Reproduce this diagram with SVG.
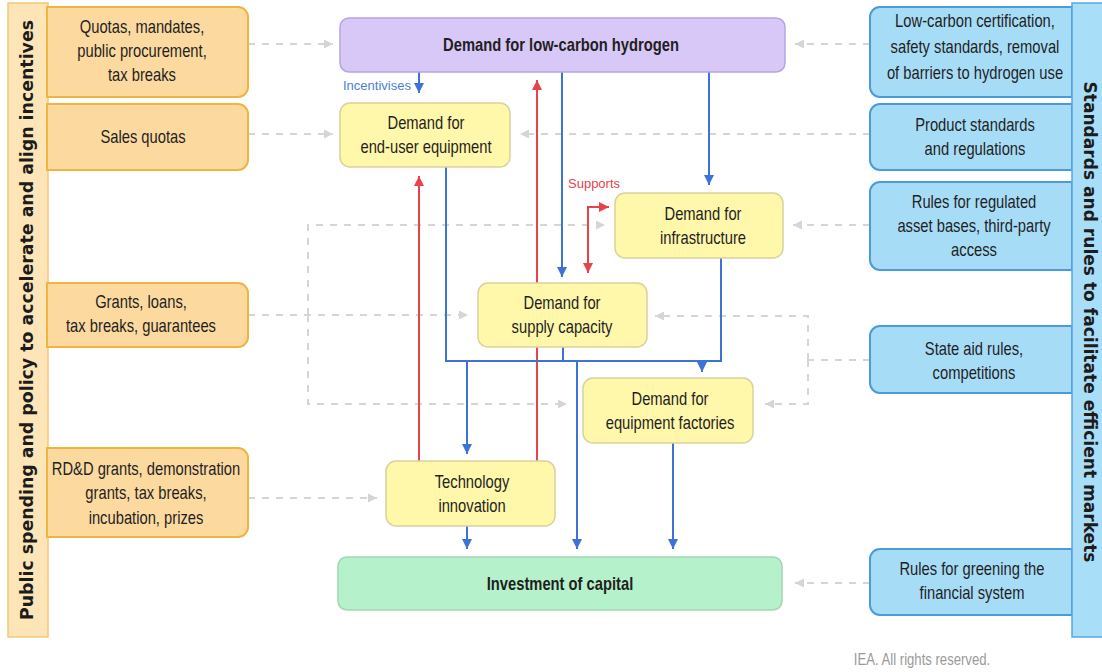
<svg xmlns="http://www.w3.org/2000/svg" width="1102" height="672" viewBox="0 0 1102 672">
<defs>
<style>
.t{font-family:"Liberation Sans",Arial,sans-serif;font-size:18px;fill:#1f1f1f;text-anchor:middle}
.b{font-weight:bold}
.side{font-family:"DejaVu Sans","Liberation Sans",sans-serif;font-size:17px;font-weight:bold;fill:#1c1c1c;text-anchor:middle}
.lbl{font-family:"Liberation Sans",Arial,sans-serif;font-size:13px}
.ob{fill:#fcd99f;stroke:#f0b540;stroke-width:2}
.bb{fill:#a7dcf7;stroke:#4b9ad9;stroke-width:2}
.yn{fill:#fff7aa;stroke:#d8d29c;stroke-width:1.5}
.blue{fill:none;stroke:#3d72d7;stroke-width:2}
.red{fill:none;stroke:#e6434b;stroke-width:2}
.dash{fill:none;stroke:#d5d5d5;stroke-width:2;stroke-dasharray:7 7}
</style>
<marker id="ab" viewBox="0 0 10 10" refX="10" refY="5" markerWidth="10" markerHeight="10" markerUnits="userSpaceOnUse" orient="auto-start-reverse"><path d="M0,0 L10,5 L0,10 Z" fill="#3d72d7"/></marker>
<marker id="ar" viewBox="0 0 10 10" refX="10" refY="5" markerWidth="10" markerHeight="10" markerUnits="userSpaceOnUse" orient="auto-start-reverse"><path d="M0,0 L10,5 L0,10 Z" fill="#e6434b"/></marker>
<marker id="ag" viewBox="0 0 10 10" refX="10" refY="5" markerWidth="9" markerHeight="10" markerUnits="userSpaceOnUse" orient="auto-start-reverse"><path d="M0,0 L10,5 L0,10 Z" fill="#d5d5d5"/></marker>
</defs>
<rect width="1102" height="672" fill="#ffffff"/>

<g id="connectors">
  <path class="dash" d="M248,44 H333" marker-end="url(#ag)"/>
  <path class="dash" d="M248,134 H333" marker-end="url(#ag)"/>
  <path class="dash" d="M870,44 H795" marker-end="url(#ag)"/>
  <path class="dash" d="M870,134 H520" marker-end="url(#ag)"/>
  <path class="dash" d="M870,225 H793" marker-end="url(#ag)"/>
  <path class="dash" d="M248,315 H468" marker-end="url(#ag)"/>
  <path class="dash" d="M308,315 V225 H605" marker-end="url(#ag)"/>
  <path class="dash" d="M308,315 V404 H567" marker-end="url(#ag)"/>
  <path class="dash" d="M870,360 H808"/>
  <path class="dash" d="M808,360 V316 H655" marker-end="url(#ag)"/>
  <path class="dash" d="M808,360 V404 H765" marker-end="url(#ag)"/>
  <path class="dash" d="M248,498 H377" marker-end="url(#ag)"/>
  <path class="dash" d="M870,583 H795" marker-end="url(#ag)"/>
  <path class="red" d="M419,461 V176" marker-end="url(#ar)"/>
  <path class="red" d="M537,461 V80" marker-end="url(#ar)"/>
  <path class="red" d="M588,273 V207 H609" marker-start="url(#ar)" marker-end="url(#ar)"/>
  <path class="blue" d="M419,72 V93" marker-end="url(#ab)"/>
  <path class="blue" d="M562,72 V277" marker-end="url(#ab)"/>
  <path class="blue" d="M709,72 V185" marker-end="url(#ab)"/>
  <path class="blue" d="M446,167 V361 H721 V258"/>
  <path class="blue" d="M563,347 V361"/>
  <path class="blue" d="M467,361 V454" marker-end="url(#ab)"/>
  <path class="blue" d="M577,361 V549" marker-end="url(#ab)"/>
  <path class="blue" d="M702,361 V372" marker-end="url(#ab)"/>
  <path class="blue" d="M467,526 V549" marker-end="url(#ab)"/>
  <path class="blue" d="M673,443 V549" marker-end="url(#ab)"/>
  <text class="lbl" x="343" y="90" fill="#4a7fd6">Incentivises</text>
  <text class="lbl" x="568" y="188" fill="#e6434b">Supports</text>
</g>

<g id="policy-bar">
  <rect x="8" y="3" width="40" height="634" fill="#fde5b7" stroke="#f4c874" stroke-width="1.5"/>
  <text class="side" transform="translate(27,320) rotate(-90)" y="6" textLength="600" lengthAdjust="spacingAndGlyphs">Public spending and policy to accelerate and align incentives</text>
</g>
<g id="p-quotas">
  <path class="ob" d="M47,7 H238 A10,10 0 0 1 248,17 V87 A10,10 0 0 1 238,97 H47 Z"/>
  <g transform="translate(142,0) scale(0.82,1)"><text class="t" y="33">Quotas, mandates,</text><text class="t" y="57">public procurement,</text><text class="t" y="81">tax breaks</text></g>
</g>
<g id="p-sales">
  <path class="ob" d="M47,104 H238 A10,10 0 0 1 248,114 V160 A10,10 0 0 1 238,170 H47 Z"/>
  <g transform="translate(143,0) scale(0.82,1)"><text class="t" y="143">Sales quotas</text></g>
</g>
<g id="p-grants">
  <path class="ob" d="M47,283 H238 A10,10 0 0 1 248,293 V337 A10,10 0 0 1 238,347 H47 Z"/>
  <g transform="translate(141,0) scale(0.82,1)"><text class="t" y="308.5">Grants, loans,</text><text class="t" y="332.5">tax breaks, guarantees</text></g>
</g>
<g id="p-rdd">
  <path class="ob" d="M47,448 H238 A10,10 0 0 1 248,458 V527 A10,10 0 0 1 238,537 H47 Z"/>
  <g transform="translate(146,0) scale(0.82,1)"><text class="t" y="475">RD&amp;D grants, demonstration</text><text class="t" y="499.5">grants, tax breaks,</text><text class="t" y="524">incubation, prizes</text></g>
</g>

<g id="s-lowcarbon">
  <path class="bb" d="M1072,7 H880 A10,10 0 0 0 870,17 V87 A10,10 0 0 0 880,97 H1072 Z"/>
  <g transform="translate(975,0) scale(0.82,1)"><text class="t" y="27">Low-carbon certification,</text><text class="t" y="53">safety standards, removal</text><text class="t" y="79">of barriers to hydrogen use</text></g>
</g>
<g id="s-product">
  <path class="bb" d="M1072,104 H880 A10,10 0 0 0 870,114 V160 A10,10 0 0 0 880,170 H1072 Z"/>
  <g transform="translate(975,0) scale(0.82,1)"><text class="t" y="131.5">Product standards</text><text class="t" y="155.5">and regulations</text></g>
</g>
<g id="s-rab">
  <path class="bb" d="M1072,182 H880 A10,10 0 0 0 870,192 V260 A10,10 0 0 0 880,270 H1072 Z"/>
  <g transform="translate(974,0) scale(0.82,1)"><text class="t" y="208">Rules for regulated</text><text class="t" y="232">asset bases, third-party</text><text class="t" y="256">access</text></g>
</g>
<g id="s-stateaid">
  <path class="bb" d="M1072,326 H880 A10,10 0 0 0 870,336 V383 A10,10 0 0 0 880,393 H1072 Z"/>
  <g transform="translate(974,0) scale(0.82,1)"><text class="t" y="355">State aid rules,</text><text class="t" y="379">competitions</text></g>
</g>
<g id="s-greening">
  <path class="bb" d="M1072,549 H880 A10,10 0 0 0 870,559 V605 A10,10 0 0 0 880,615 H1072 Z"/>
  <g transform="translate(972,0) scale(0.82,1)"><text class="t" y="575">Rules for greening the</text><text class="t" y="599">financial system</text></g>
</g>
<g id="standards-bar">
  <rect x="1072" y="3" width="40" height="634" fill="#a9def9" stroke="#5aa7e0" stroke-width="1.5"/>
  <text class="side" transform="translate(1090,322) rotate(90)" y="6" textLength="481" lengthAdjust="spacingAndGlyphs">Standards and rules to facilitate efficient markets</text>
</g>

<g id="n-hydrogen">
  <rect x="340" y="18" width="445" height="54" rx="9" fill="#d8c8f8" stroke="#b6a4e2" stroke-width="1.5"/>
  <g transform="translate(561,0) scale(0.82,1)"><text class="t b" y="51.5">Demand for low-carbon hydrogen</text></g>
</g>
<g id="n-enduser">
  <rect class="yn" x="340" y="103" width="170" height="64" rx="10"/>
  <g transform="translate(426,0) scale(0.82,1)"><text class="t" y="129.5">Demand for</text><text class="t" y="153.5">end-user equipment</text></g>
</g>
<g id="n-infra">
  <rect class="yn" x="615" y="193" width="168" height="65" rx="10"/>
  <g transform="translate(703,0) scale(0.82,1)"><text class="t" y="220">Demand for</text><text class="t" y="244">infrastructure</text></g>
</g>
<g id="n-supply">
  <rect class="yn" x="478" y="283" width="169" height="64" rx="10"/>
  <g transform="translate(562,0) scale(0.82,1)"><text class="t" y="309">Demand for</text><text class="t" y="333">supply capacity</text></g>
</g>
<g id="n-factories">
  <rect class="yn" x="583" y="378" width="170" height="65" rx="10"/>
  <g transform="translate(670,0) scale(0.82,1)"><text class="t" y="405">Demand for</text><text class="t" y="429">equipment factories</text></g>
</g>
<g id="n-tech">
  <rect class="yn" x="386" y="461" width="169" height="65" rx="10"/>
  <g transform="translate(472,0) scale(0.82,1)"><text class="t" y="488">Technology</text><text class="t" y="512">innovation</text></g>
</g>
<g id="n-capital">
  <rect x="338" y="557" width="444" height="53" rx="9" fill="#b5f2cb" stroke="#a3d5b1" stroke-width="1.5"/>
  <g transform="translate(560,0) scale(0.82,1)"><text class="t b" y="590">Investment of capital</text></g>
</g>

<g transform="translate(922,0) scale(0.82,1)"><text class="t" y="665" style="font-size:16px;fill:#9a9a9a">IEA. All rights reserved.</text></g>
</svg>
